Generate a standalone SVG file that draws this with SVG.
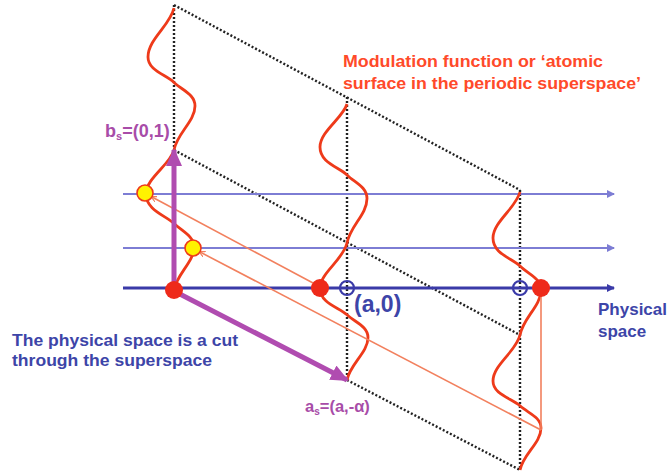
<svg xmlns="http://www.w3.org/2000/svg" width="671" height="476" viewBox="0 0 671 476">
<style>
.dot{stroke:#222;stroke-width:2.4;stroke-dasharray:2 2;fill:none}
.hl{stroke:#7d7dd4;stroke-width:2}
.hd{stroke:#3a3aa8;stroke-width:3}
.mod{stroke:#ee3a1a;stroke-width:2.8;fill:none}
.sal{stroke:#f2805e;stroke-width:1.6;fill:none}
.pur{stroke:#b04cb0;stroke-width:5;fill:none}
.rd{fill:#ee2a1a}
.yd{fill:#fff200;stroke:#ee3a1a;stroke-width:1.6}
.oc{fill:none;stroke:#3a3aa8;stroke-width:2.2}
text{font-family:"Liberation Sans",Arial,sans-serif;font-weight:bold}
.blue{fill:#3d45a8}
.red{fill:#ff4a2a}
.pt{fill:#a84ca8}
</style>
<defs>
<marker id="ab" markerWidth="8" markerHeight="8" refX="7" refY="4" orient="auto" markerUnits="userSpaceOnUse"><path d="M0,0 L8,4 L0,8 z" fill="#3a3aa8"/></marker>
<marker id="al" markerWidth="8" markerHeight="8" refX="7" refY="4" orient="auto" markerUnits="userSpaceOnUse"><path d="M0,0 L8,4 L0,8 z" fill="#7d7dd4"/></marker>
<marker id="ap" markerWidth="18" markerHeight="16" refX="16" refY="8" orient="auto" markerUnits="userSpaceOnUse"><path d="M0,0 L18,8 L0,16 z" fill="#b04cb0"/></marker>
<marker id="as" markerWidth="6" markerHeight="6" refX="1" refY="3" orient="auto" markerUnits="userSpaceOnUse"><path d="M6,0 L0,3 L6,6" fill="none" stroke="#f2805e" stroke-width="1.2"/></marker>
</defs>

<g id="connectors">
  <g id="lattice">
    <path class="dot" d="M174,5 L520,190 M174,150 L520,335 M347,380 L520,470"/>
    <path class="dot" d="M174,5 L174,150 M347,97 L347,380 M520,190 L520,470"/>
  </g>
  <g id="physical-lines">
    <line class="hl" x1="123" y1="194" x2="614" y2="194" marker-end="url(#al)"/>
    <line class="hl" x1="123" y1="248" x2="614" y2="248" marker-end="url(#al)"/>
    <line class="hd" x1="123" y1="288" x2="614" y2="288" marker-end="url(#ab)"/>
  </g>
  <g id="modulation">
    <path class="mod" d="M174,8 C170,25.6 148,39.3 148,57 C148,70.7 166,74.6 174,82.4 C182,90.2 195,94.2 195,105.9 C195,121.6 177,133.3 174,150 C170,165 146,178 146,194 C146,210 166,215.7 174,223.4 C182,231.1 194,236 194,247 C194,262 177,273.6 174,290"/>
    <path class="mod" d="M347,104 C343,117.8 320,131.6 320,147 C320,163.1 339,167 347,174.9 C355,182.8 367,186.8 367,198.6 C367,214.4 350,226.2 347,243 C343,260 320,273.2 320,288 C320,303.5 339,307.3 347,314.8 C355,322.4 368,326.2 368,337.5 C368,352.6 350,364 347,380"/>
    <path class="mod" d="M520,192 C516,208 493,222 493,238 C493,254 512,258 520,266 C528,274 541,278 541,290 C541,306 523,318 520,335 C516,351.8 493,364.8 493,381 C493,394.6 512,398.3 520,405.8 C528,413.2 541,416.9 541,428.1 C541,443 523,454.2 520,470"/>
  </g>
  <g id="projections">
    <line class="sal" x1="152" y1="197" x2="313" y2="283" marker-start="url(#as)"/>
    <line class="sal" x1="200" y1="252" x2="541" y2="430" marker-start="url(#as)"/>
    <line class="sal" x1="541" y1="430" x2="541" y2="296"/>
  </g>
  <g id="basis">
    <line class="pur" x1="174" y1="292" x2="174" y2="150" marker-end="url(#ap)"/>
    <line class="pur" x1="172" y1="290" x2="347" y2="380" marker-end="url(#ap)"/>
  </g>
</g>

<g id="atom-origin"><circle class="rd" cx="174" cy="290" r="9"/></g>
<g id="atom-middle"><circle class="rd" cx="320" cy="288" r="9"/></g>
<g id="atom-right"><circle class="rd" cx="541" cy="288" r="9"/></g>
<g id="atom-yellow-1"><circle class="yd" cx="145" cy="193" r="8"/></g>
<g id="atom-yellow-2"><circle class="yd" cx="193" cy="248" r="8"/></g>
<g id="lattice-point-1"><circle class="oc" cx="347" cy="288" r="7"/></g>
<g id="lattice-point-2"><circle class="oc" cx="520" cy="288" r="7"/></g>

<g id="label-bs"><text class="pt" x="105" y="137" font-size="18">b<tspan font-size="11" dy="3">s</tspan><tspan dy="-3">=(0,1)</tspan></text></g>
<g id="label-as"><text class="pt" x="305" y="412" font-size="16.5">a<tspan font-size="10" dy="3">s</tspan><tspan dy="-3">=(a,-α)</tspan></text></g>
<g id="label-a0"><text class="blue" x="354" y="312" font-size="23">(a,0)</text></g>
<g id="label-physical"><text class="blue" x="598" y="315" font-size="17">Physical</text><text class="blue" x="598" y="337" font-size="17">space</text></g>
<g id="label-cut"><text class="blue" x="12" y="346" font-size="17" textLength="226" lengthAdjust="spacingAndGlyphs">The physical space is a cut</text><text class="blue" x="12" y="366" font-size="17" textLength="200" lengthAdjust="spacingAndGlyphs">through the superspace</text></g>
<g id="label-modulation"><text class="red" x="343" y="67" font-size="17" textLength="260" lengthAdjust="spacingAndGlyphs">Modulation function or ‘atomic</text><text class="red" x="343" y="89" font-size="17" textLength="298" lengthAdjust="spacingAndGlyphs">surface in the periodic superspace’</text></g>
</svg>
